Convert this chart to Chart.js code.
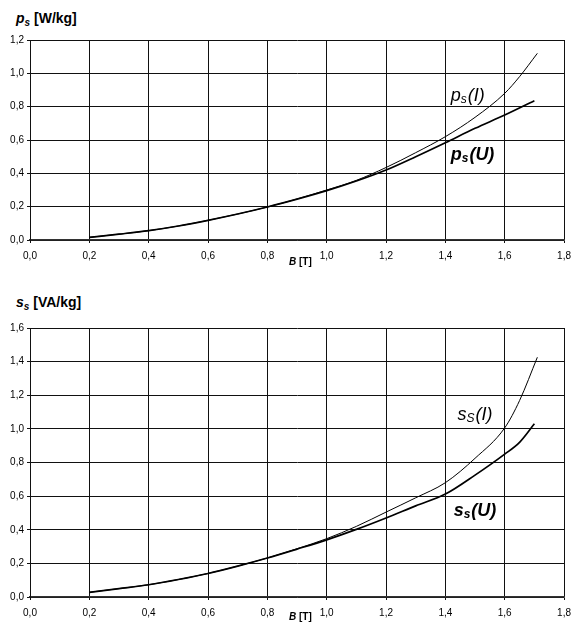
<!DOCTYPE html>
<html>
<head>
<meta charset="utf-8">
<script src="https://cdn.jsdelivr.net/npm/chart.js@4/dist/chart.umd.min.js"></script>
<style>
  html, body { margin:0; padding:0; background:#fff; width:578px; height:624px; overflow:hidden; }
  body { position:relative; font-family:"Liberation Sans", Arial, sans-serif; color:#000; }
  .wrap { position:absolute; left:0; }
  .ttl { position:absolute; left:16px; font-weight:bold; font-size:14px; line-height:14px; white-space:nowrap; }
  .ttl i { font-style:italic; }
  .ttl sub { font-size:10px; font-style:italic; vertical-align:-3px; line-height:0; }
  .xl { position:absolute; left:289px; font-weight:bold; font-size:10px; line-height:10px; white-space:nowrap; }
</style>
</head>
<body>
<div class="ttl" style="top:11px;"><i>p</i><sub>s</sub> [W/kg]</div>
<div class="wrap" style="top:0; width:578px; height:272px;"><canvas id="c1" width="578" height="272"></canvas></div>
<div class="xl" style="top:257px;"><i>B</i> [T]</div>

<div class="ttl" style="top:295px;"><i>s</i><sub>s</sub> [VA/kg]</div>
<div class="wrap" style="top:290px; width:578px; height:334px;"><canvas id="c2" width="578" height="334"></canvas></div>
<div class="xl" style="top:612px;"><i>B</i> [T]</div>

<script>
// ---- data ----
const B_pU = [0.2,0.3,0.4,0.5,0.6,0.7,0.8,0.9,1.0,1.1,1.2,1.3,1.4,1.5,1.6,1.7];
const pU   = [0.016,0.035,0.056,0.084,0.118,0.156,0.198,0.245,0.296,0.354,0.42,0.50,0.584,0.67,0.75,0.836];
const B_pI = [0.2,0.3,0.4,0.5,0.6,0.7,0.8,0.9,1.0,1.1,1.2,1.3,1.4,1.5,1.6,1.65,1.71];
const pI   = [0.016,0.035,0.056,0.084,0.118,0.156,0.198,0.246,0.30,0.358,0.435,0.524,0.62,0.736,0.88,0.98,1.12];

const B_sU = [0.2,0.3,0.4,0.5,0.6,0.7,0.8,0.9,1.0,1.1,1.2,1.3,1.4,1.5,1.6,1.65,1.7];
const sU   = [0.028,0.05,0.073,0.104,0.14,0.184,0.232,0.285,0.34,0.402,0.47,0.542,0.612,0.725,0.85,0.92,1.03];
const B_sI = [0.2,0.3,0.4,0.5,0.6,0.7,0.8,0.9,1.0,1.1,1.2,1.3,1.4,1.5,1.6,1.65,1.71];
const sI   = [0.028,0.05,0.073,0.104,0.14,0.184,0.232,0.287,0.347,0.42,0.505,0.59,0.68,0.825,1.006,1.168,1.426];

const xTicks = [0,0.2,0.4,0.6,0.8,1.0,1.2,1.4,1.6,1.8];
const pTicks = [0,0.2,0.4,0.6,0.8,1.0,1.2];
const sTicks = [0,0.2,0.4,0.6,0.8,1.0,1.2,1.4,1.6];

// curve label texts: main letter, subscript, argument, weight and anchor (data units)
const pLabels = [ {m:'p', s:'s', a:'(I)', bold:false, x:1.418, y:0.834},
                  {m:'p', s:'s', a:'(U)', bold:true,  x:1.418, y:0.48} ];
const sLabels = [ {m:'s', s:'S', a:'(I)', bold:false, x:1.441, y:1.05},
                  {m:'s', s:'s', a:'(U)', bold:true,  x:1.428, y:0.48} ];

const pts = (xs, ys) => xs.map((x,i) => ({x, y: ys[i]}));
const fmt = v => (Math.round(v*10)/10).toFixed(1).replace('.', ',');
const FONT = '"Liberation Sans", Arial, sans-serif';

function labelPlugin(labels) {
  return {
    id: 'curveLabels',
    afterDatasetsDraw(chart) {
      const ctx = chart.ctx, xs = chart.scales.x, ys = chart.scales.y;
      ctx.save();
      ctx.fillStyle = '#000';
      ctx.textBaseline = 'alphabetic';
      ctx.textAlign = 'left';
      labels.forEach(l => {
        const w = l.bold ? 'bold ' : '';
        let px = xs.getPixelForValue(l.x), py = ys.getPixelForValue(l.y);
        ctx.font = 'italic ' + w + '18px ' + FONT;
        ctx.fillText(l.m, px, py); px += ctx.measureText(l.m).width;
        ctx.font = 'italic ' + w + '12px ' + FONT;
        ctx.fillText(l.s, px, py + 2); px += ctx.measureText(l.s).width + 1;
        ctx.font = 'italic ' + w + '18px ' + FONT;
        ctx.fillText(l.a, px, py);
      });
      ctx.restore();
    }
  };
}

function makeChart(id, dsU, dsI, yMax, yTickVals, labels, padTop, xAxisH) {
  return new Chart(document.getElementById(id), {
    type: 'line',
    data: {
      datasets: [
        { data: dsI, borderColor:'#000', borderWidth:1, pointRadius:0, fill:false, cubicInterpolationMode:'monotone' },
        { data: dsU, borderColor:'#000', borderWidth:1.7, pointRadius:0, fill:false, cubicInterpolationMode:'monotone' }
      ]
    },
    options: {
      responsive:false, maintainAspectRatio:false, animation:false,
      layout: { padding: { top: padTop, right: 7, left: 0, bottom: 0 } },
      plugins: { legend:{display:false}, tooltip:{enabled:false}, title:{display:false} },
      scales: {
        x: {
          type:'linear', min:0, max:1.8,
          afterBuildTicks: s => { s.ticks = xTicks.map(v => ({value:v})); },
          afterFit: s => { s.height = xAxisH; },
          grid: { color:'#111', lineWidth:1, drawTicks:true, tickLength:3, tickColor:'#111' },
          border: { color:'#333', width:1.5 },
          ticks: { callback: v => fmt(v), color:'#000', font:{family:FONT, size:10}, padding:7, maxRotation:0, autoSkip:false }
        },
        y: {
          min:0, max:yMax,
          afterBuildTicks: s => { s.ticks = yTickVals.map(v => ({value:v})); },
          afterFit: s => { s.width = 30; },
          grid: { color:'#111', lineWidth:1, drawTicks:true, tickLength:3, tickColor:'#111' },
          border: { color:'#111', width:1 },
          ticks: { callback: v => fmt(v), color:'#000', font:{family:FONT, size:10}, padding:3, autoSkip:false }
        }
      }
    },
    plugins: [labelPlugin(labels)]
  });
}

makeChart('c1', pts(B_pU, pU), pts(B_pI, pI), 1.2, pTicks, pLabels, 40, 32);
makeChart('c2', pts(B_sU, sU), pts(B_sI, sI), 1.6, sTicks, sLabels, 38, 27);
</script>
</body>
</html>
